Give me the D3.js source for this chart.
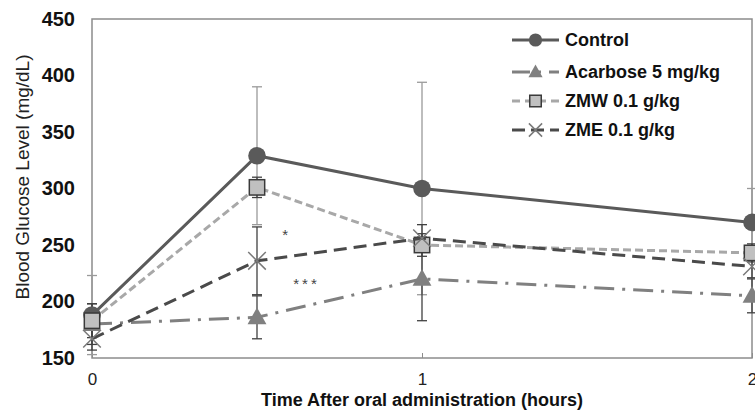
<!DOCTYPE html>
<html>
<head>
<meta charset="utf-8">
<script src="https://cdn.jsdelivr.net/npm/d3@7"></script>
<style>
  body { margin: 0; background: #fff; }
  svg { display: block; font-family: Arial, "Liberation Sans", sans-serif; }
</style>
</head>
<body>
<div id="chart"></div>
<script>
// data
const times = [0, 0.5, 1, 2];
const xTicks = [0, 1, 2];
const yTicks = [150, 200, 250, 300, 350, 400, 450];

const control = [188, 329, 300, 270];
const controlErr = [35, 61, 94, 30];
const acarbose = [180, 186, 220, 205];
const acarboseErr = [18, 19, 37, 15];
const zmw = [183, 301, 250, 243];
const zmwErr = [15, 9, 10, 8];
const zme = [167, 236, 256, 231];
const zmeErr = [10, 30, 12, 10];

const seriesNames = ['Control', 'Acarbose 5 mg/kg', 'ZMW 0.1 g/kg', 'ZME 0.1 g/kg'];

const W = 755, H = 411;
const m = { top: 19, right: 3, bottom: 53, left: 92 };
const w = W - m.left - m.right, h = H - m.top - m.bottom;

const svg = d3.select('#chart').append('svg').attr('width', W).attr('height', H);
const g = svg.append('g').attr('transform', `translate(${m.left},${m.top})`);

const x = d3.scaleLinear().domain([0, 2]).range([0, w]);
const y = d3.scaleLinear().domain([150, 450]).range([h, 0]);

// series styling
const series = [
  { name: seriesNames[0], vals: control, err: controlErr, line: '#5a5a5a', dash: null, ldash: null, marker: 'circle', fill: '#5a5a5a', mstroke: '#5a5a5a', ebar: '#9a9a9a' },
  { name: seriesNames[1], vals: acarbose, err: acarboseErr, line: '#808080', dash: '20,8,3,8', ldash: '18,8,3,8', marker: 'triangle', fill: '#808080', mstroke: '#808080', ebar: '#404040' },
  { name: seriesNames[2], vals: zmw, err: zmwErr, line: '#a8a8a8', dash: '8,4', ldash: '8,5', marker: 'square', fill: '#c0c0c0', mstroke: '#3a3a3a', ebar: '#404040' },
  { name: seriesNames[3], vals: zme, err: zmeErr, line: '#4a4a4a', dash: '13,7', ldash: '13,6', marker: 'cross', fill: 'none', mstroke: '#7a7a7a', ebar: '#404040' }
];

// frame
g.append('rect').attr('x', 0).attr('y', 0).attr('width', w).attr('height', h)
  .attr('fill', 'none').attr('stroke', '#8c8c8c').attr('stroke-width', 1.5);

// x axis
const xAxis = g.append('g').attr('transform', `translate(0,${h})`)
  .call(d3.axisBottom(x).tickValues(xTicks).tickSizeInner(-5).tickSizeOuter(0).tickPadding(15).tickFormat(d3.format('d')));
xAxis.select('.domain').remove();
xAxis.selectAll('.tick line').attr('stroke', '#8c8c8c');
xAxis.selectAll('text').attr('fill', '#222').style('font-size', '17px');

// y axis
const yAxis = g.append('g')
  .call(d3.axisLeft(y).tickValues(yTicks).tickSize(0).tickPadding(17));
yAxis.select('.domain').remove();
yAxis.selectAll('text').attr('fill', '#111').style('font-size', '20px').style('font-weight', 'bold');

// axis titles
svg.append('text').attr('x', m.left + x(1)).attr('y', 406)
  .attr('text-anchor', 'middle').attr('font-size', '18px').attr('font-weight', 'bold').attr('fill', '#111')
  .text('Time After oral administration (hours)');
svg.append('text').attr('transform', 'translate(29,177) rotate(-90)')
  .attr('text-anchor', 'middle').attr('font-size', '19px').attr('fill', '#222')
  .text('Blood Glucose Level (mg/dL)');

const line = d3.line().x(d => x(d.t)).y(d => y(d.v));

function drawMarker(sel, s, size) {
  if (s.marker === 'circle') {
    sel.append('circle').attr('r', size * 0.55).attr('fill', s.fill);
  } else if (s.marker === 'triangle') {
    const r = size * 0.62;
    sel.append('path').attr('d', `M0,${-r}L${r * 0.95},${r * 0.7}L${-r * 0.95},${r * 0.7}Z`).attr('fill', s.fill);
  } else if (s.marker === 'square') {
    const r = size * 0.48;
    sel.append('rect').attr('x', -r).attr('y', -r).attr('width', 2 * r).attr('height', 2 * r)
      .attr('fill', s.fill).attr('stroke', s.mstroke).attr('stroke-width', 1.5);
  } else {
    const r = size * 0.55;
    sel.append('path').attr('d', `M${-r},${-r}L${r},${r}M${-r},${r}L${r},${-r}`)
      .attr('stroke', s.mstroke).attr('stroke-width', 1.5).attr('fill', 'none');
  }
}

// error bars
series.forEach(s => {
  const pts = times.map((t, i) => ({ t, v: s.vals[i], e: s.err[i] }));
  const eg = g.append('g');
  eg.selectAll('line.v').data(pts).join('line')
    .attr('x1', d => x(d.t)).attr('x2', d => x(d.t))
    .attr('y1', d => y(d.v - d.e)).attr('y2', d => y(d.v + d.e))
    .attr('stroke', s.ebar).attr('stroke-width', 1.3);
  [-1, 1].forEach(sign => {
    eg.selectAll(null).data(pts).join('line')
      .attr('x1', d => x(d.t) - 5).attr('x2', d => x(d.t) + 5)
      .attr('y1', d => y(d.v + sign * d.e)).attr('y2', d => y(d.v + sign * d.e))
      .attr('stroke', s.ebar).attr('stroke-width', 1.3);
  });
});

// lines + markers
series.forEach(s => {
  const pts = times.map((t, i) => ({ t, v: s.vals[i] }));
  g.append('path').datum(pts).attr('d', line)
    .attr('fill', 'none').attr('stroke', s.line).attr('stroke-width', 3)
    .attr('stroke-dasharray', s.dash);
  pts.forEach(p => {
    const mg = g.append('g').attr('transform', `translate(${x(p.t)},${y(p.v)})`);
    drawMarker(mg, s, 16);
  });
});

// significance marks
g.append('text').attr('x', x(0.585)).attr('y', y(254)).attr('text-anchor', 'middle')
  .attr('font-size', '15px').attr('fill', '#444').text('*');
g.append('text').attr('x', x(0.65)).attr('y', y(211)).attr('text-anchor', 'middle')
  .attr('font-size', '15px').attr('fill', '#444').attr('letter-spacing', '3px').text('***');

// legend
const leg = svg.append('g').attr('transform', 'translate(512,40)');
series.forEach((s, i) => {
  const row = leg.append('g').attr('transform', `translate(0,${i === 0 ? 0 : 3 + i * 29})`);
  row.append('line').attr('x1', 0).attr('x2', 47).attr('y1', 0).attr('y2', 0)
    .attr('stroke', s.line).attr('stroke-width', 3)
    .attr('stroke-dasharray', s.ldash);
  drawMarker(row.append('g').attr('transform', 'translate(23.5,0)'), s, 12);
  row.append('text').attr('x', 53).attr('y', 0).attr('dy', '0.35em')
    .attr('font-size', '18px').attr('font-weight', 'bold').attr('fill', '#111')
    .text(s.name);
});
</script>
</body>
</html>
